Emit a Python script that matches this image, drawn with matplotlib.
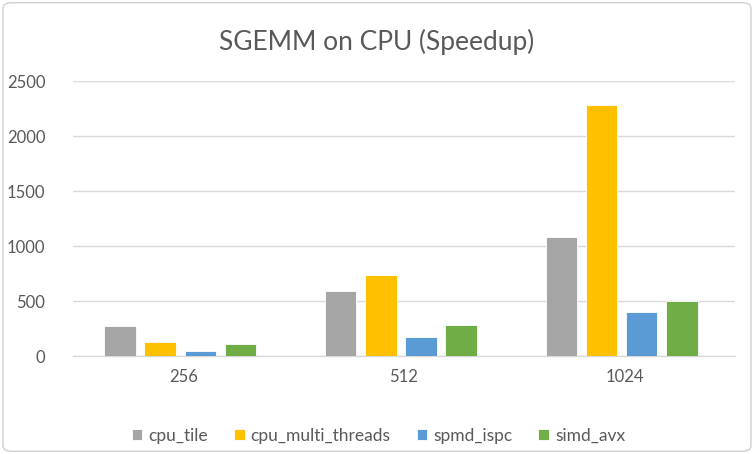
import numpy as np
import matplotlib.pyplot as plt
from matplotlib.patches import FancyBboxPatch

plt.rcParams["font.family"] = ["Lato", "DejaVu Sans"]

sizes = ["256", "512", "1024"]
series_names = ["cpu_tile", "cpu_multi_threads", "spmd_ispc", "simd_avx"]
cpu_tile = [277, 597, 1085]
cpu_multi_threads = [134, 737, 2280]
spmd_ispc = [51, 177, 400]
simd_avx = [113, 286, 500]
colors = ["#A5A5A5", "#FFC000", "#5B9BD5", "#70AD47"]

fig = plt.figure(figsize=(7.54, 4.54), dpi=100)
ax = fig.add_axes([73 / 754, 1 - 356.3 / 454, 662 / 754, 275.3 / 454])

# rounded outer border like the excel chart frame
frame = FancyBboxPatch((0.004, 0.006), 0.992, 0.988, boxstyle="round,pad=0,rounding_size=0.012",
                       transform=fig.transFigure, fill=False, edgecolor="#d0d0d0", linewidth=1.0)
fig.patches.append(frame)

x = np.arange(len(sizes))
width = 0.143
step = 0.182
all_series = [cpu_tile, cpu_multi_threads, spmd_ispc, simd_avx]
for i, (name, vals) in enumerate(zip(series_names, all_series)):
    offset = (i - 1.5) * step - 0.014
    ax.bar(x + offset, vals, width, color=colors[i], label=name, edgecolor="white",
           linewidth=0.6, zorder=3)

ax.set_xlim(-0.5, 2.5)
ax.set_ylim(0, 2500)
ax.set_yticks(range(0, 2501, 500))
ax.set_xticks(x)
ax.set_xticklabels(sizes)
ax.grid(axis="y", color="#d9d9d9", linewidth=1.0, zorder=0)
for s in ["top", "right", "left"]:
    ax.spines[s].set_visible(False)
ax.spines["bottom"].set_color("#d9d9d9")
ax.spines["bottom"].set_linewidth(1.0)
ax.tick_params(axis="both", length=0, labelsize=12, colors="#595959", pad=9)
ax.tick_params(axis="y", pad=20)

fig.text(0.5, 1 - 42 / 454, "SGEMM on CPU (Speedup)", ha="center", va="center",
         fontsize=19, color="#595959")

leg = fig.legend(loc="center", bbox_to_anchor=(0.502, 1 - 436 / 454), ncol=4, frameon=False,
                 fontsize=12.5, handlelength=0.6, handleheight=0.6, handletextpad=0.35,
                 columnspacing=1.5, labelcolor="#595959")

fig.savefig("out.png", dpi=100)
